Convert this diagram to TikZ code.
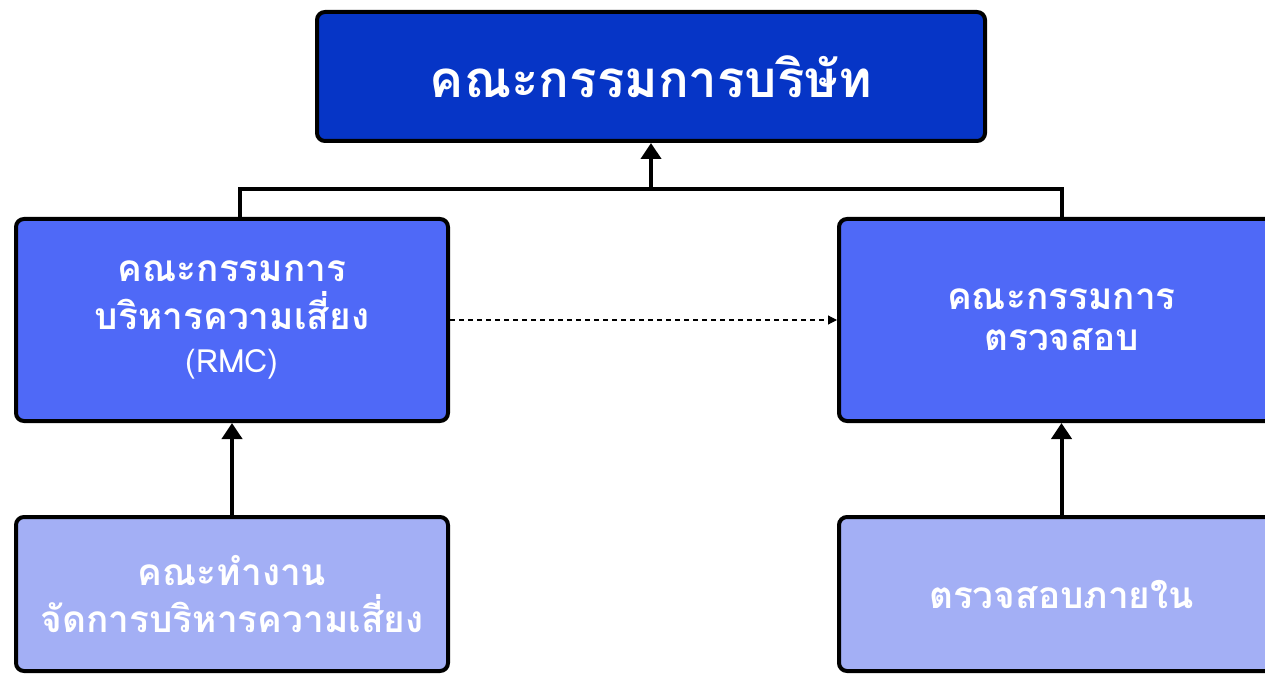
\documentclass[tikz,border=0pt]{standalone}
\usepackage{fontspec}
\setmainfont{Loma}[Script=Thai]
\usetikzlibrary{arrows.meta}
\definecolor{cTop}{HTML}{0635C6}
\definecolor{cMid}{HTML}{4F69F7}
\definecolor{cLow}{HTML}{A3AFF5}
\begin{document}
\begin{tikzpicture}[x=1pt,y=-1pt,
  box/.style={draw=black,line width=4pt,rounded corners=8pt,anchor=north west,inner sep=0pt,text=white,align=center,font=\bfseries},
  conn/.style={line width=4pt},
  arr/.style={line width=4pt,-{Triangle[width=20pt,length=16pt]}},
  dasharr/.style={line width=1.2pt,dash pattern=on 5pt off 4pt,-{Triangle[width=9pt,length=9pt]}}]
\useasboundingbox (0,0) rectangle (1265,676);
\clip (0,0) rectangle (1265,676);
\node[box,fill=cTop,minimum width=668pt,minimum height=129pt,font=\bfseries\fontsize{51}{60}\selectfont] (board) at (315,10) {คณะกรรมการบริษัท};
\node[box,fill=cMid,minimum width=432pt,minimum height=202pt,font=\bfseries\fontsize{37}{48}\selectfont] (rmc) at (14,217) {คณะกรรมการ\\บริหารความเสี่ยง\\[-5pt]{\mdseries\fontsize{32}{36}\selectfont (RMC)}};
\node[box,fill=cMid,minimum width=445pt,minimum height=202pt,font=\bfseries\fontsize{37}{41}\selectfont] (audit) at (837,217) {คณะกรรมการ\\ตรวจสอบ};
\node[box,fill=cLow,minimum width=432pt,minimum height=154pt,font=\bfseries\fontsize{37}{47}\selectfont] (work) at (14,515) {คณะทำงาน\\จัดการบริหารความเสี่ยง};
\node[box,fill=cLow,minimum width=445pt,minimum height=154pt,font=\bfseries\fontsize{37}{47}\selectfont] (internal) at (837,515) {ตรวจสอบภายใน};
\coordinate (jl) at (240,189);
\coordinate (jr) at (1062,189);
\coordinate (jm) at (651,189);
\draw[conn] (240,219) -- (jl) -- (jr) -- (1062,219);
\draw[arr] (jm) -- (board.south -| jm);
\draw[arr] (work.north) -- (rmc.south);
\draw[arr] (internal.north) -- (audit.south);
\draw[dasharr] (rmc.east) -- (audit.west);
\end{tikzpicture}
\end{document}
